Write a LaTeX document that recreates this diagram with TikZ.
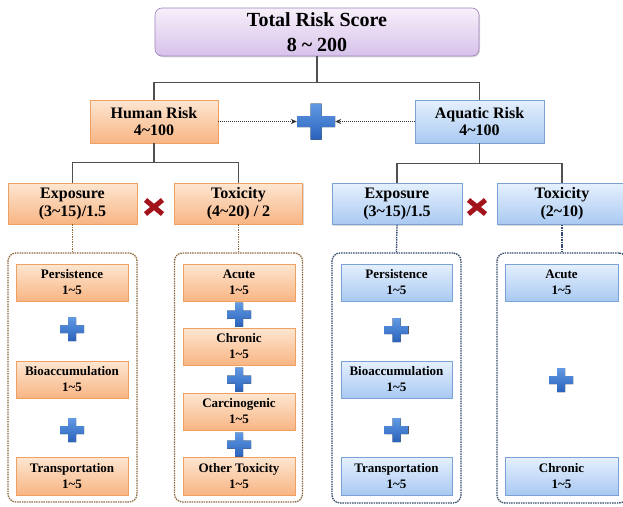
\documentclass[tikz,border=0pt]{standalone}
\usepackage{fontspec}
\setmainfont{Liberation Serif}
\usetikzlibrary{arrows.meta,shadows,calc}
\definecolor{orT}{HTML}{FDE6D1}
\definecolor{orB}{HTML}{F8B584}
\definecolor{orD}{HTML}{EFA063}
\definecolor{blT}{HTML}{E5F0FD}
\definecolor{blB}{HTML}{A9C9F2}
\definecolor{blD}{HTML}{7AA2D5}
\definecolor{puT}{HTML}{F7F0FA}
\definecolor{puB}{HTML}{D7C1EA}
\definecolor{puD}{HTML}{9F83BD}
\definecolor{lineC}{HTML}{505050}
\definecolor{brownD}{HTML}{8E6A40}
\definecolor{navyD}{HTML}{33496A}
\definecolor{plusT}{HTML}{629AE4}
\definecolor{plusB}{HTML}{2A62BC}
\definecolor{xred}{HTML}{A3131B}
\newcommand\mytilde{\textasciitilde}
\begin{document}
\begin{tikzpicture}[x=1pt,y=-1pt,
 box/.style={rectangle, inner sep=0pt, align=center, line width=0.6pt,
   drop shadow={shadow xshift=1pt, shadow yshift=-1.3pt, opacity=0.3}},
 orbox/.style={box, draw=orD, top color=orT, bottom color=orB},
 blbox/.style={box, draw=blD, top color=blT, bottom color=blB},
 topbox/.style={minimum width=128pt, minimum height=43pt, font=\fontsize{16}{17}\selectfont\bfseries},
 midbox/.style={minimum width=129pt, minimum height=41pt, font=\fontsize{16}{18}\selectfont\bfseries},
 inbox/.style={minimum width=112pt, minimum height=37pt, font=\fontsize{13}{16}\selectfont\bfseries},
 conn/.style={draw=lineC, line width=1.2pt},
 hcont/.style={draw=brownD, line width=1.3pt, dash pattern=on 1.5pt off 0.9pt, rounded corners=8pt, minimum width=129pt, minimum height=249pt, inner sep=0pt},
 acont/.style={draw=navyD, line width=1.3pt, dash pattern=on 1.5pt off 0.9pt, rounded corners=8pt, minimum width=129pt, minimum height=250pt, inner sep=0pt},
 hdot/.style={draw=brownD, line width=1.3pt, dash pattern=on 1.5pt off 0.9pt},
 adot/.style={draw=navyD, line width=1.3pt, dash pattern=on 1.5pt off 0.9pt},
 darr/.style={draw=black!80, line width=0.6pt, dash pattern=on 1pt off 1pt, -{Stealth[length=6pt,width=5pt]}},
 smallplus/.style={inner sep=0pt, minimum width=24pt, minimum height=24pt, path picture={
   \fill[top color=plusT, bottom color=plusB] ([xshift=-12pt,yshift=4pt]path picture bounding box.center)
     -- ++(8pt,0pt) -- ++(0pt,8pt) -- ++(8pt,0pt) -- ++(0pt,-8pt) -- ++(8pt,0pt) -- ++(0pt,-8pt)
     -- ++(-8pt,0pt) -- ++(0pt,-8pt) -- ++(-8pt,0pt) -- ++(0pt,8pt) -- ++(-8pt,0pt) -- cycle;}},
 bigplus/.style={inner sep=0pt, minimum width=38pt, minimum height=36pt, path picture={
   \fill[top color=plusT, bottom color=plusB] ([xshift=-19pt,yshift=5.5pt]path picture bounding box.center)
     -- ++(13.5pt,0pt) -- ++(0pt,12.5pt) -- ++(11pt,0pt) -- ++(0pt,-12.5pt) -- ++(13.5pt,0pt) -- ++(0pt,-11pt)
     -- ++(-13.5pt,0pt) -- ++(0pt,-12.5pt) -- ++(-11pt,0pt) -- ++(0pt,12.5pt) -- ++(-13.5pt,0pt) -- cycle;}},
 xmark/.style={inner sep=0pt, minimum width=24pt, minimum height=22pt, path picture={
   \draw[xred, line width=5pt] ([xshift=-8.5pt,yshift=-7pt]path picture bounding box.center) -- ([xshift=8.5pt,yshift=7pt]path picture bounding box.center);
   \draw[xred, line width=5pt] ([xshift=-8.5pt,yshift=7pt]path picture bounding box.center) -- ([xshift=8.5pt,yshift=-7pt]path picture bounding box.center);}}
]
\useasboundingbox (0,0) rectangle (623,506);

% top
\node[box, draw=puD, top color=puT, bottom color=puB, rounded corners=7pt, minimum width=324pt, minimum height=48pt,
  font=\fontsize{20}{25}\selectfont\bfseries] (total) at (317,32) {Total Risk Score\\8 \mytilde{} 200};
\node[orbox, topbox] (human) at (154,121.5) {Human Risk\\4\mytilde 100};
\node[blbox, topbox, minimum width=129pt] (aqua) at (479.5,121.5) {Aquatic Risk\\4\mytilde 100};
\node[bigplus] (plus0) at (316,121.5) {};

\draw[conn] (total.south) -- ++(0,26) coordinate (j1);
\draw[conn] (j1) -| (human.north);
\draw[conn] (j1) -| (aqua.north);
\draw[darr] (human.east) -- (plus0.west);
\draw[darr] (aqua.west) -- (plus0.east);

% second level
\node[orbox, midbox] (hexp) at (72.5,203.5) {Exposure\\(3\mytilde 15)/1.5};
\node[orbox, midbox, minimum width=128pt] (htox) at (238.5,203.5) {Toxicity\\(4\mytilde 20) / 2};
\node[blbox, midbox, minimum width=130pt] (aexp) at (397,204) {Exposure\\(3\mytilde 15)/1.5};
\node[blbox, midbox, minimum width=130pt] (atox) at (562,204) {Toxicity\\(2\mytilde 10)};
\node[xmark] (xh) at (154,207) {};
\node[xmark] (xa) at (477,207) {};

\draw[conn] (human.south) -- ++(0,19) coordinate (j2);
\draw[conn] (j2) -| (hexp.north);
\draw[conn] (j2) -| (htox.north);
\draw[conn] (aqua.south) -- ++(0,20) coordinate (j3);
\draw[conn] (j3) -| (aexp.north);
\draw[conn] (j3) -| (atox.north);

% containers
\node[hcont] (hexpC) at (72.5,377.5) {};
\node[hcont, minimum width=128pt] (htoxC) at (238.5,377.5) {};
\node[acont] (aexpC) at (396.5,378) {};
\node[acont, minimum width=130pt] (atoxC) at (562,378) {};
\draw[hdot] (hexp.south) -- (hexpC.north);
\draw[hdot] (htox.south) -- (htoxC.north);
\draw[adot] (aexp.south) -- (aexpC.north);
\draw[adot] (atox.south) -- (atoxC.north);

% human exposure
\node[orbox, inbox] (hper) at (72,282.5) {Persistence\\1\mytilde 5};
\node[orbox, inbox] (hbio) at (72,379.5) {Bioaccumulation\\1\mytilde 5};
\node[orbox, inbox, minimum height=38pt] (htra) at (72,476) {Transportation\\1\mytilde 5};
\node[smallplus] (hp1) at (72,329) {};
\node[smallplus] (hp2) at (72,430) {};

% human toxicity
\node[orbox, inbox] (hacu) at (239,282.5) {Acute\\1\mytilde 5};
\node[orbox, inbox] (hchr) at (239,346.5) {Chronic\\1\mytilde 5};
\node[orbox, inbox] (hcar) at (239,411.5) {Carcinogenic\\1\mytilde 5};
\node[orbox, inbox, minimum height=38pt] (hoth) at (239,476) {Other Toxicity\\1\mytilde 5};
\node[smallplus] (tp1) at (239,314.5) {};
\node[smallplus] (tp2) at (239,379.5) {};
\node[smallplus] (tp3) at (239,444.5) {};

% aquatic exposure
\node[blbox, inbox, minimum width=111pt] (aper) at (396.5,282.5) {Persistence\\1\mytilde 5};
\node[blbox, inbox, minimum width=111pt] (abio) at (396.5,379.5) {Bioaccumulation\\1\mytilde 5};
\node[blbox, inbox, minimum width=111pt, minimum height=38pt] (atra) at (396.5,476) {Transportation\\1\mytilde 5};
\node[smallplus] (ap1) at (396.5,330) {};
\node[smallplus] (ap2) at (396.5,430) {};

% aquatic toxicity
\node[blbox, inbox, minimum width=113pt] (aacu) at (561.5,282.5) {Acute\\1\mytilde 5};
\node[blbox, inbox, minimum width=113pt, minimum height=38pt] (achr) at (561.5,476) {Chronic\\1\mytilde 5};
\node[smallplus] (aq1) at (561,380) {};
\end{tikzpicture}
\end{document}
